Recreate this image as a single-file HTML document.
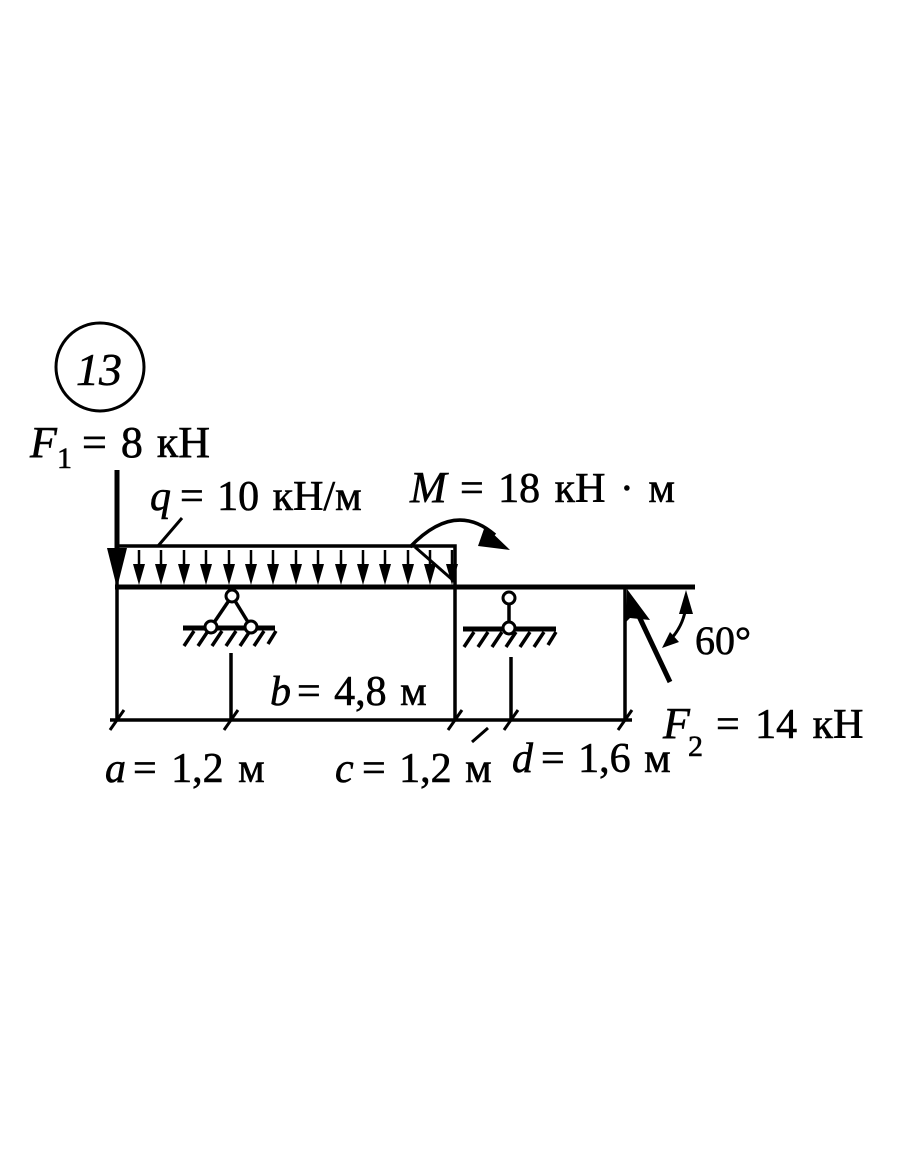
<!DOCTYPE html>
<html><head><meta charset="utf-8"><style>html,body{margin:0;padding:0;background:#fff;}
text{stroke:#000;stroke-width:0.6px;font-family:"Liberation Serif","DejaVu Serif",serif;}</style></head>
<body>
<svg width="910" height="1155" viewBox="0 0 910 1155" xmlns="http://www.w3.org/2000/svg" fill="#000">
<circle cx="100" cy="367" r="44" fill="none" stroke="#000" stroke-width="3"/>
<text x="76" y="385" font-size="46" font-style="italic">13</text>
<text x="30" y="457" font-size="44" font-style="italic">F</text>
<text x="57" y="468" font-size="30">1</text>
<text x="82" y="457" font-size="44" word-spacing="3">= 8 кН</text>
<text x="150" y="510" font-size="42" font-style="italic">q</text>
<text x="180" y="510" font-size="42" word-spacing="3">= 10 кН/м</text>
<text x="410" y="502" font-size="44" font-style="italic">M</text>
<text x="460" y="502" font-size="42" word-spacing="4">= 18 кН · м</text>
<text x="270" y="705" font-size="42" font-style="italic">b</text>
<text x="297" y="705" font-size="42" word-spacing="3">= 4,8 м</text>
<text x="105" y="782" font-size="42" font-style="italic">a</text>
<text x="133" y="782" font-size="42" word-spacing="4">= 1,2 м</text>
<text x="335" y="782" font-size="42" font-style="italic">c</text>
<text x="362" y="782" font-size="42" word-spacing="3">= 1,2 м</text>
<text x="512" y="772" font-size="42" font-style="italic">d</text>
<text x="541" y="772" font-size="42" word-spacing="3">= 1,6 м</text>
<text x="663" y="738" font-size="44" font-style="italic">F</text>
<text x="688" y="756" font-size="30">2</text>
<text x="716" y="738" font-size="42" word-spacing="5">= 14 кН</text>
<text x="695" y="654" font-size="40">60°</text>
<g stroke="#000" fill="none">
<line x1="115" y1="587" x2="695" y2="587" stroke-width="5"/>
<polyline points="117,587 117,546 455,546 455,587" stroke-width="3.5"/>
<line x1="117" y1="587" x2="117" y2="720" stroke-width="3.5"/>
<line x1="455" y1="587" x2="455" y2="720" stroke-width="3.5"/>
<line x1="625" y1="587" x2="625" y2="720" stroke-width="3.5"/>
<line x1="231" y1="653" x2="231" y2="720" stroke-width="3.5"/>
<line x1="511" y1="657" x2="511" y2="720" stroke-width="3.5"/>
<line x1="110" y1="720" x2="632" y2="720" stroke-width="3.5"/>
<g stroke-width="3">
<line x1="110" y1="730" x2="124" y2="710"/>
<line x1="224" y1="730" x2="238" y2="710"/>
<line x1="448" y1="730" x2="462" y2="710"/>
<line x1="504" y1="730" x2="518" y2="710"/>
<line x1="618" y1="730" x2="632" y2="710"/>
<line x1="472" y1="742" x2="488" y2="728"/>
</g>
<line x1="182" y1="518" x2="158" y2="546" stroke-width="3"/>
<line x1="117" y1="470" x2="117" y2="560" stroke-width="5"/>
<path d="M410,547 Q455,500 495,535" stroke-width="3.5"/>
<line x1="415" y1="547" x2="455" y2="582" stroke-width="3"/>
<line x1="183" y1="628" x2="275" y2="628" stroke-width="5"/>
<line x1="463" y1="629" x2="556" y2="629" stroke-width="5"/>
<g stroke-width="3.5">
<line x1="232" y1="596" x2="211" y2="627"/>
<line x1="232" y1="596" x2="251" y2="627"/>
<line x1="509" y1="598" x2="509" y2="628"/>
</g>
<g stroke-width="3.5">
<line x1="194" y1="631" x2="184" y2="646"/><line x1="208" y1="631" x2="198" y2="646"/><line x1="222" y1="631" x2="212" y2="646"/><line x1="236" y1="631" x2="226" y2="646"/><line x1="250" y1="631" x2="240" y2="646"/><line x1="264" y1="631" x2="254" y2="646"/><line x1="276" y1="631" x2="268" y2="644"/>
<line x1="474" y1="632" x2="464" y2="647"/><line x1="488" y1="632" x2="478" y2="647"/><line x1="502" y1="632" x2="492" y2="647"/><line x1="516" y1="632" x2="506" y2="647"/><line x1="530" y1="632" x2="520" y2="647"/><line x1="544" y1="632" x2="534" y2="647"/><line x1="556" y1="632" x2="548" y2="645"/>
</g>
<g fill="#fff" stroke-width="3">
<circle cx="232" cy="596" r="6"/><circle cx="211" cy="627" r="6"/><circle cx="251" cy="627" r="6"/>
<circle cx="509" cy="598" r="6"/><circle cx="509" cy="628" r="6"/>
</g>
<line x1="670" y1="682" x2="636" y2="610" stroke-width="5"/>
<path d="M686,606 A60,60 0 0 1 670,640" stroke-width="3"/>
</g>
<path d="M107,548 L127,548 L117,588 Z"/>
<path d="M485,526 L510,550 L478,546 Z"/>
<path d="M627,589 L650,620 L630,618 L626,622 Z"/>
<path d="M686,590 L693,614 L679,614 Z"/>
<path d="M662,648 L670,632 L679,642 Z"/>
<g stroke="#000" stroke-width="2.5">
<line x1="139" y1="550" x2="139" y2="575"/><line x1="161" y1="550" x2="161" y2="575"/><line x1="184" y1="550" x2="184" y2="575"/><line x1="206" y1="550" x2="206" y2="575"/><line x1="229" y1="550" x2="229" y2="575"/><line x1="251" y1="550" x2="251" y2="575"/><line x1="273" y1="550" x2="273" y2="575"/><line x1="296" y1="550" x2="296" y2="575"/><line x1="318" y1="550" x2="318" y2="575"/><line x1="341" y1="550" x2="341" y2="575"/><line x1="363" y1="550" x2="363" y2="575"/><line x1="385" y1="550" x2="385" y2="575"/><line x1="408" y1="550" x2="408" y2="575"/><line x1="430" y1="550" x2="430" y2="575"/><line x1="452" y1="550" x2="452" y2="575"/>
</g>
<g>
<path d="M133,564 L145,564 L139,585 Z"/><path d="M155,564 L167,564 L161,585 Z"/><path d="M178,564 L190,564 L184,585 Z"/><path d="M200,564 L212,564 L206,585 Z"/><path d="M223,564 L235,564 L229,585 Z"/><path d="M245,564 L257,564 L251,585 Z"/><path d="M267,564 L279,564 L273,585 Z"/><path d="M290,564 L302,564 L296,585 Z"/><path d="M312,564 L324,564 L318,585 Z"/><path d="M335,564 L347,564 L341,585 Z"/><path d="M357,564 L369,564 L363,585 Z"/><path d="M379,564 L391,564 L385,585 Z"/><path d="M402,564 L414,564 L408,585 Z"/><path d="M424,564 L436,564 L430,585 Z"/><path d="M446,564 L458,564 L452,585 Z"/>
</g>
</svg>
</body></html>
